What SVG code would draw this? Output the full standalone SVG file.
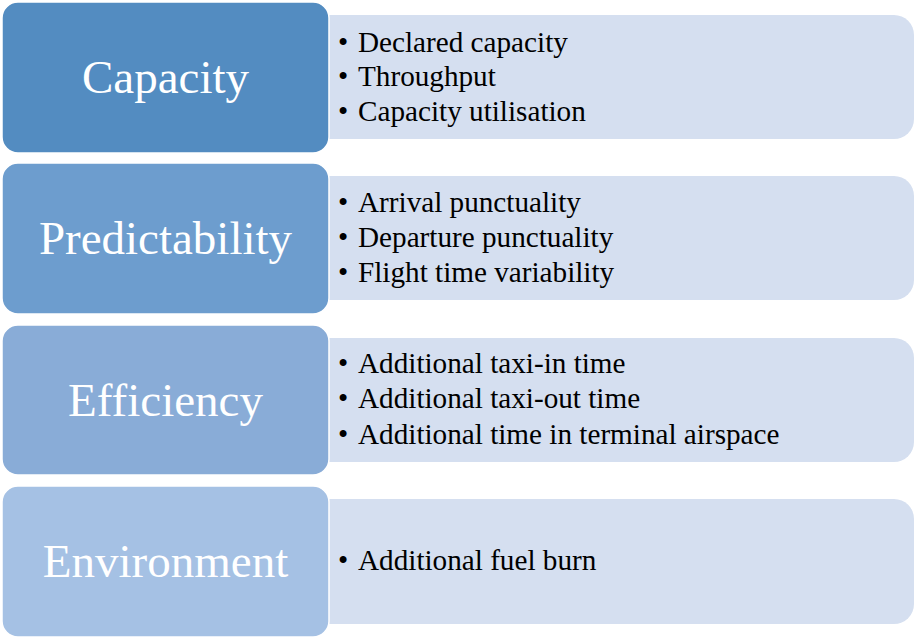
<svg xmlns="http://www.w3.org/2000/svg" width="915" height="639" viewBox="0 0 915 639">
  <style>
    .panel { fill: #d5dff0; }
    .head { stroke: #ffffff; stroke-width: 1.5; }
    .title { font-family: "Liberation Serif", "Times New Roman", serif; font-size: 47px; fill: #ffffff; text-anchor: middle; }
    .item { font-family: "Liberation Serif", "Times New Roman", serif; font-size: 29.2px; fill: #000000; }
  </style>
  <rect width="915" height="639" fill="#ffffff"/>

  <g id="capacity">
    <rect class="panel" x="300" y="15" width="614" height="124" rx="20"/>
    <rect class="head" x="2" y="2" width="327" height="151" rx="16" fill="#538cc1"/>
    <text class="title" x="165.5" y="93">Capacity</text>
    <text class="item" y="52"><tspan x="338">•</tspan><tspan x="358">Declared capacity</tspan></text>
    <text class="item" y="86"><tspan x="338">•</tspan><tspan x="358">Throughput</tspan></text>
    <text class="item" y="121"><tspan x="338">•</tspan><tspan x="358">Capacity utilisation</tspan></text>
  </g>

  <g id="predictability">
    <rect class="panel" x="300" y="176" width="614" height="124" rx="20"/>
    <rect class="head" x="2" y="163" width="327" height="151" rx="16" fill="#6d9dce"/>
    <text class="title" x="165.5" y="254">Predictability</text>
    <text class="item" y="212"><tspan x="338">•</tspan><tspan x="358">Arrival punctuality</tspan></text>
    <text class="item" y="247"><tspan x="338">•</tspan><tspan x="358">Departure punctuality</tspan></text>
    <text class="item" y="282"><tspan x="338">•</tspan><tspan x="358">Flight time variability</tspan></text>
  </g>

  <g id="efficiency">
    <rect class="panel" x="300" y="338" width="614" height="124" rx="20"/>
    <rect class="head" x="2" y="325" width="327" height="150" rx="16" fill="#89acd7"/>
    <text class="title" x="165.5" y="416">Efficiency</text>
    <text class="item" y="373"><tspan x="338">•</tspan><tspan x="358">Additional taxi-in time</tspan></text>
    <text class="item" y="408"><tspan x="338">•</tspan><tspan x="358">Additional taxi-out time</tspan></text>
    <text class="item" y="444"><tspan x="338">•</tspan><tspan x="358">Additional time in terminal airspace</tspan></text>
  </g>

  <g id="environment">
    <rect class="panel" x="300" y="499" width="614" height="125" rx="20"/>
    <rect class="head" x="2" y="486" width="327" height="151" rx="16" fill="#a5c1e4"/>
    <text class="title" x="165.5" y="577">Environment</text>
    <text class="item" y="570"><tspan x="338">•</tspan><tspan x="358">Additional fuel burn</tspan></text>
  </g>

  <g id="connectors"/>
</svg>
